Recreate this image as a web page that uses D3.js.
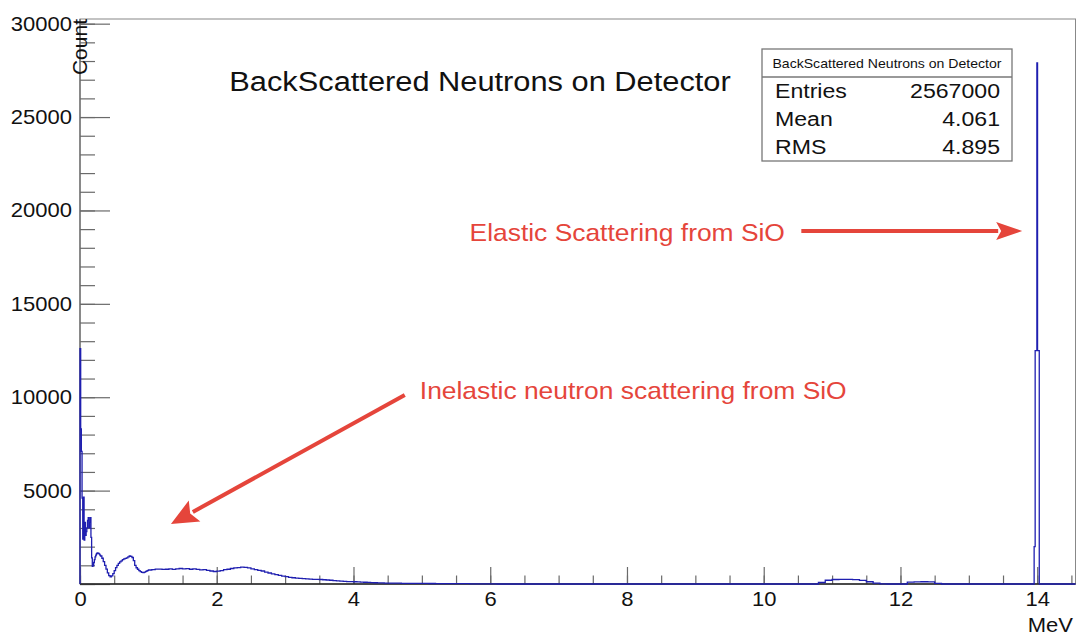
<!DOCTYPE html>
<html>
<head>
<meta charset="utf-8">
<script src="https://cdn.jsdelivr.net/npm/d3@7/dist/d3.min.js"></script>
<style>
  html, body { margin: 0; padding: 0; background: #fff; }
  svg { display: block; }
  text { font-family: "Liberation Sans", Arial, Helvetica, sans-serif; }
</style>
</head>
<body>
<svg id="chart" width="1083" height="635"></svg>
<script>
// Histogram bins as [lower edge (MeV), count]; bins run until the next edge.
const lowRegion = [
  [0.00, 12600], [0.01, 8300], [0.02, 7100], [0.03, 4600], [0.04, 2400],
  [0.05, 4650], [0.06, 2350], [0.07, 3300], [0.08, 2600], [0.09, 2800],
  [0.10, 3000], [0.11, 3400], [0.12, 3550], [0.13, 3000], [0.14, 3300],
  [0.15, 3550], [0.16, 2500], [0.17, 1400], [0.18, 950], [0.19, 1000],
  [0.20, 1150], [0.21, 1300], [0.22, 1450], [0.23, 1550], [0.24, 1620],
  [0.25, 1660], [0.26, 1650], [0.27, 1640], [0.28, 1600], [0.29, 1550]
];
const resonanceRegion = [
  [0.30, 1500], [0.32, 1380], [0.34, 1200], [0.36, 1000], [0.38, 800],
  [0.40, 600], [0.42, 450], [0.44, 380], [0.46, 430], [0.48, 560],
  [0.50, 720], [0.52, 880], [0.54, 1000], [0.56, 1100], [0.58, 1180],
  [0.60, 1240], [0.62, 1300], [0.64, 1340], [0.66, 1370], [0.68, 1400],
  [0.70, 1450], [0.72, 1500], [0.74, 1480], [0.76, 1420], [0.78, 1250],
  [0.80, 1000], [0.82, 870], [0.84, 790], [0.86, 720], [0.88, 660],
  [0.90, 620], [0.92, 610], [0.94, 640], [0.96, 680], [0.98, 720]
];
const continuumRegion = [
  [1.00, 750], [1.05, 770], [1.10, 795], [1.15, 800], [1.20, 780],
  [1.25, 790], [1.30, 815], [1.35, 780], [1.40, 805], [1.45, 830],
  [1.50, 815], [1.55, 820], [1.60, 790], [1.65, 805], [1.70, 780],
  [1.75, 760], [1.80, 775], [1.85, 730], [1.90, 695], [1.95, 670],
  [2.00, 685], [2.05, 720], [2.10, 765], [2.15, 790], [2.20, 830],
  [2.25, 860], [2.30, 880], [2.35, 905], [2.40, 890], [2.45, 865],
  [2.50, 810], [2.55, 775], [2.60, 730], [2.65, 695], [2.70, 640],
  [2.75, 590], [2.80, 545], [2.85, 500], [2.90, 460], [2.95, 420],
  [3.00, 390], [3.05, 360], [3.10, 335], [3.15, 310], [3.20, 300],
  [3.25, 285], [3.30, 270], [3.35, 262], [3.40, 250], [3.45, 245],
  [3.50, 240], [3.55, 228], [3.60, 215], [3.65, 200], [3.70, 185],
  [3.75, 170], [3.80, 155], [3.85, 142], [3.90, 130], [3.95, 125],
  [4.00, 120], [4.05, 115], [4.10, 105], [4.15, 95], [4.20, 85],
  [4.25, 75], [4.30, 66], [4.35, 60], [4.40, 55], [4.45, 50]
];
const tailRegion = [
  [4.5, 45], [4.6, 42], [4.7, 38], [4.8, 35], [4.9, 32], [5.0, 30],
  [5.1, 27], [5.2, 25], [5.3, 22], [5.4, 20], [5.5, 17], [5.6, 15],
  [5.7, 12], [5.8, 10], [5.9, 8], [6.0, 5], [6.1, 0],
  [10.8, 80], [10.9, 200], [11.0, 240], [11.1, 250], [11.2, 250],
  [11.3, 230], [11.4, 190], [11.5, 120], [11.6, 50], [11.7, 10], [11.8, 0],
  [12.1, 100], [12.2, 110], [12.3, 120], [12.4, 110], [12.5, 30], [12.6, 0]
];
const elasticRegion = [
  [13.955, 2000], [13.97, 12500], [13.995, 27900], [14.005, 12500], [14.03, 0]
];

const xTickValues = [0, 2, 4, 6, 8, 10, 12, 14];
const yTickValues = [5000, 10000, 15000, 20000, 25000, 30000];

const histTitle = "BackScattered Neutrons on Detector";
const statsRows = [["Entries", "2567000"], ["Mean", "4.061"], ["RMS", "4.895"]];

// Annotations in data coordinates: [E, count]
const elasticNote = { text: "Elastic Scattering from SiO", at: [10.31, 18380],
                      from: [10.55, 18900], to: [13.78, 18900] };
const inelasticNote = { text: "Inelastic neutron scattering from SiO", at: [4.97, 9900],
                        from: [4.75, 10120], to: [1.33, 3210] };

// ---------------------------------------------------------------------------
const W = 1083, H = 635;
const margin = { left: 80, top: 19, right: 7.5, bottom: 51 };
const SX = 1.1; // horizontal glyph stretch
const xMax = 14.56, yMax = 30250;

const svg = d3.select("#chart");
svg.append("rect").attr("width", W).attr("height", H).attr("fill", "#fff");

const x = d3.scaleLinear().domain([0, xMax]).range([margin.left, W - margin.right]);
const y = d3.scaleLinear().domain([0, yMax]).range([H - margin.bottom, margin.top]);

function stretch(sel) {
  sel.each(function () {
    const t = d3.select(this);
    const x0 = +t.attr("x") || 0;
    t.attr("x", x0 / SX).attr("transform", `scale(${SX},1)`);
  });
}

const axisColor = "#6a6a6a";

// Frame
svg.append("rect")
  .attr("x", x(0)).attr("y", y(yMax))
  .attr("width", x(xMax) - x(0)).attr("height", y(0) - y(yMax))
  .attr("fill", "none").attr("stroke", "#888").attr("stroke-width", 1);

// Y axis: minor and major ticks drawn inward
const yMinor = svg.append("g").attr("transform", `translate(${x(0)},0)`)
  .call(d3.axisLeft(y).tickValues(d3.range(0, 30001, 1000)).tickSize(-15).tickFormat(""));
const yAxis = svg.append("g").attr("transform", `translate(${x(0)},0)`)
  .call(d3.axisLeft(y).tickValues([0].concat(yTickValues)).tickSize(-30).tickPadding(8)
        .tickFormat(d => d === 0 ? "" : d3.format("d")(d)));
[yMinor, yAxis].forEach(g => {
  g.select(".domain").remove();
  g.selectAll("line").attr("stroke", axisColor).attr("stroke-width", 1.2);
});
yAxis.selectAll("text").attr("font-size", 20).attr("fill", "#111").call(stretch);

// X axis
const xMinor = svg.append("g").attr("transform", `translate(0,${y(0)})`)
  .call(d3.axisBottom(x).tickValues(d3.range(0, 14.51, 0.5)).tickSize(-8.5).tickFormat(""));
const xAxis = svg.append("g").attr("transform", `translate(0,${y(0)})`)
  .call(d3.axisBottom(x).tickValues(xTickValues).tickSize(-17).tickPadding(8).tickFormat(d3.format("d")));
[xMinor, xAxis].forEach(g => {
  g.select(".domain").remove();
  g.selectAll("line").attr("stroke", axisColor).attr("stroke-width", 1.2);
});
xAxis.selectAll("text").attr("font-size", 20).attr("fill", "#111").call(stretch);

// Axis lines
svg.append("line").attr("x1", x(0)).attr("x2", x(0)).attr("y1", y(0)).attr("y2", y(yMax))
  .attr("stroke", axisColor).attr("stroke-width", 1.3);
svg.append("line").attr("x1", x(0)).attr("x2", x(xMax)).attr("y1", y(0)).attr("y2", y(0))
  .attr("stroke", "#222").attr("stroke-width", 1.3);

// Axis titles
svg.append("text").attr("x", W - 10).attr("y", 632).attr("text-anchor", "end")
  .attr("font-size", 20).attr("fill", "#111").text("MeV").call(stretch);
svg.append("text")
  .attr("transform", `translate(${x(0) + 7},${y(yMax)}) rotate(-90)`)
  .attr("text-anchor", "end").attr("font-size", 21).attr("fill", "#111").text("Count");

// Histogram outline
const bins = [].concat(lowRegion, resonanceRegion, continuumRegion, tailRegion, elasticRegion);
const pts = [[0, 0]].concat(bins, [[xMax, bins[bins.length - 1][1]]]);
svg.append("path")
  .datum(pts)
  .attr("fill", "none")
  .attr("stroke", "#1f1fb0")
  .attr("stroke-width", 1.3)
  .attr("d", d3.line().x(d => x(d[0])).y(d => y(d[1])).curve(d3.curveStepAfter));

// Title
svg.append("text").attr("x", 480).attr("y", 91).attr("text-anchor", "middle")
  .attr("font-size", 28).attr("fill", "#111").text(histTitle).call(stretch);

// Stats box
const box = { x: 762, y: 49, w: 250, h: 112, head: 28 };
svg.append("rect").attr("x", box.x).attr("y", box.y).attr("width", box.w).attr("height", box.h)
  .attr("fill", "#fff").attr("stroke", "#777").attr("stroke-width", 1.3);
svg.append("line").attr("x1", box.x).attr("x2", box.x + box.w)
  .attr("y1", box.y + box.head).attr("y2", box.y + box.head)
  .attr("stroke", "#777").attr("stroke-width", 1.3);
svg.append("text").attr("x", box.x + box.w / 2).attr("y", box.y + 19).attr("text-anchor", "middle")
  .attr("font-size", 12.8).attr("fill", "#111").text(histTitle).call(stretch);
const rowH = (box.h - box.head) / statsRows.length;
statsRows.forEach((r, i) => {
  const by = box.y + box.head + rowH * (i + 0.5) + 7.5;
  svg.append("text").attr("x", box.x + 13).attr("y", by).attr("font-size", 21)
    .attr("fill", "#111").text(r[0]).call(stretch);
  svg.append("text").attr("x", box.x + box.w - 12).attr("y", by).attr("font-size", 21)
    .attr("text-anchor", "end").attr("fill", "#111").text(r[1]).call(stretch);
});

// Annotations
const red = "#e5453b";
function arrow(note, headLen, headHalf) {
  const x1 = x(note.from[0]), y1 = y(note.from[1]);
  const x2 = x(note.to[0]), y2 = y(note.to[1]);
  const dx = x2 - x1, dy = y2 - y1, L = Math.hypot(dx, dy);
  const ux = dx / L, uy = dy / L;
  const bx = x2 - ux * headLen, by = y2 - uy * headLen;
  svg.append("line").attr("x1", x1).attr("y1", y1)
    .attr("x2", bx + ux * 2).attr("y2", by + uy * 2)
    .attr("stroke", red).attr("stroke-width", 4);
  svg.append("path")
    .attr("d", `M${x2},${y2}L${bx - uy * headHalf},${by + ux * headHalf}L${bx + ux * 5},${by + uy * 5}L${bx + uy * headHalf},${by - ux * headHalf}Z`)
    .attr("fill", red);
}
svg.append("text").attr("x", x(elasticNote.at[0])).attr("y", y(elasticNote.at[1]))
  .attr("text-anchor", "end").attr("font-size", 24).attr("fill", red)
  .text(elasticNote.text).call(stretch);
arrow(elasticNote, 26, 9);
svg.append("text").attr("x", x(inelasticNote.at[0])).attr("y", y(inelasticNote.at[1]))
  .attr("font-size", 24).attr("fill", red)
  .text(inelasticNote.text).call(stretch);
arrow(inelasticNote, 27, 12);
</script>
</body>
</html>
